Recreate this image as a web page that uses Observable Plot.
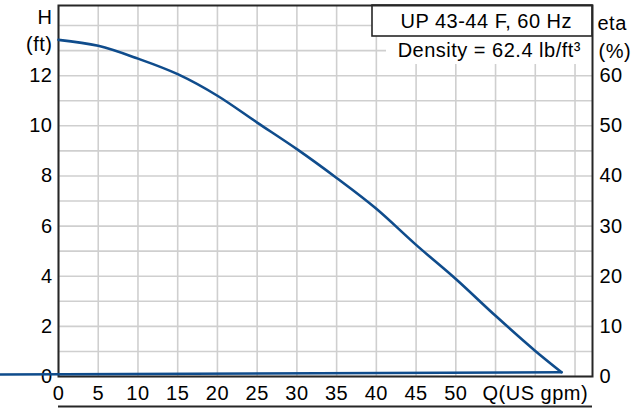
<!DOCTYPE html>
<html><head><meta charset="utf-8">
<script src="https://cdn.jsdelivr.net/npm/d3@7"></script>
<script src="https://cdn.jsdelivr.net/npm/@observablehq/plot@0.6"></script>
<style>
body{margin:0;background:#fff;}
svg{display:block;}
svg text{letter-spacing:0.5px;}
</style>
</head><body><div id="chart"></div>
<script>
// Pump curve H(Q)
const flowQ = [0, 5, 10, 15, 20, 25, 30, 35, 40, 45, 50, 55, 60, 63.3];
const headH = [13.43, 13.19, 12.68, 12.06, 11.2, 10.13, 9.07, 7.92, 6.69, 5.25, 3.89, 2.42, 1.02, 0.17];
// near-zero baseline curve
const baseQ = [-8, 63.3];
const baseH = [0.08, 0.17];
// ticks
const xTicks = [0, 5, 10, 15, 20, 25, 30, 35, 40, 45, 50, 60];
const xGrid = [0, 5, 10, 15, 20, 25, 30, 35, 40, 45, 50, 55, 60, 65];
const hTicks = [0, 2, 4, 6, 8, 10, 12];
const hGrid = [0, 1, 2, 3, 4, 5, 6, 7, 8, 9, 10, 11, 12, 13, 14];
const etaTicks = [0, 10, 20, 30, 40, 50, 60];
const xUnitLabel = "Q(US gpm)";
const titleText = "UP 43-44 F, 60 Hz";
const densityText = "Density = 62.4 lb/ft³";

const curve = flowQ.map((q, i) => ({q, h: headH[i]}));
const base = baseQ.map((q, i) => ({q, h: baseH[i]}));

const FS = 20;
const FONT = "'Liberation Sans', Arial, sans-serif";
const BLUE = "#0f4c8c";
const DARK = "#262626";

function boxes(index, scales, values, dim) {
  const g = d3.create("svg:g");
  const right = dim.width - dim.marginRight;
  const top = dim.marginTop;
  g.append("rect").attr("x", right - 206).attr("y", top + 31).attr("width", 206).attr("height", 28).attr("fill", "white");
  g.append("rect").attr("x", right - 220).attr("y", top).attr("width", 220).attr("height", 31)
    .attr("fill", "white").attr("stroke", DARK).attr("stroke-width", 1.6);
  g.append("text").attr("x", right - 20).attr("y", top + 22.5).attr("text-anchor", "end")
    .attr("font-size", FS).attr("fill", "black").text(titleText);
  g.append("text").attr("x", right - 11).attr("y", top + 52).attr("text-anchor", "end")
    .attr("font-size", FS).attr("fill", "black").text(densityText);
  return g.node();
}

const chart = Plot.plot({
  width: 644,
  height: 408,
  marginLeft: 58,
  marginRight: 52,
  marginTop: 5,
  marginBottom: 32,
  style: {fontFamily: FONT, fontSize: FS + "px", color: "black", background: "white"},
  x: {domain: [0, 67.2]},
  y: {domain: [0, 14.8]},
  marks: [
    Plot.gridX(xGrid, {stroke: "#cfcfcf", strokeOpacity: 1, strokeWidth: 1.6}),
    Plot.gridY(hGrid, {stroke: "#cfcfcf", strokeOpacity: 1, strokeWidth: 1.6}),
    boxes,
    Plot.axisX(xTicks, {tickSize: 0, tickPadding: 9, fontSize: FS,
      tickFormat: d => d === 60 ? xUnitLabel : String(d), label: null}),
    Plot.axisY(hTicks, {anchor: "left", tickSize: 0, tickPadding: 6, fontSize: FS, label: null}),
    Plot.axisY(etaTicks.map(e => e / 5), {anchor: "right", tickSize: 0, tickPadding: 7, fontSize: FS,
      tickFormat: d => String(Math.round(d * 5)), label: null}),
    Plot.text(["H"], {frameAnchor: "top-left", lineAnchor: "middle", textAnchor: "end", dx: -6, dy: 12.5, fontSize: FS}),
    Plot.text(["(ft)"], {frameAnchor: "top-left", lineAnchor: "middle", textAnchor: "end", dx: -6, dy: 39, fontSize: FS}),
    Plot.text(["eta"], {frameAnchor: "top-right", lineAnchor: "middle", textAnchor: "start", dx: 5, dy: 18, fontSize: FS}),
    Plot.text(["(%)"], {frameAnchor: "top-right", lineAnchor: "middle", textAnchor: "start", dx: 6, dy: 46.5, fontSize: FS}),
    Plot.frame({stroke: DARK, strokeWidth: 2}),
    Plot.ruleY([0], {dy: 30, stroke: DARK, strokeWidth: 2}),
    Plot.line(base, {x: "q", y: "h", stroke: BLUE, strokeWidth: 2.6}),
    Plot.line(curve, {x: "q", y: "h", stroke: BLUE, strokeWidth: 2.6, curve: "monotone-x"})
  ]
});
document.getElementById("chart").append(chart);
</script>
</body></html>
